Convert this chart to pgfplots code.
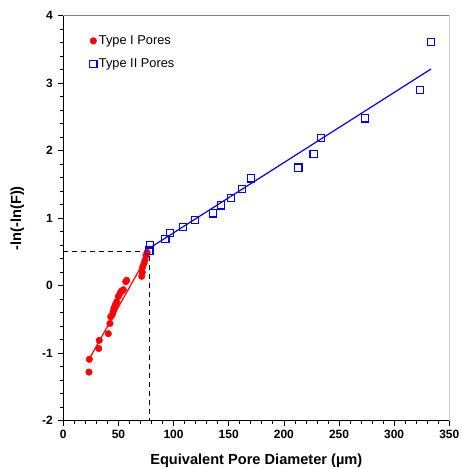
\documentclass[border=0pt]{standalone}
\usepackage{pgfplots}
\pgfplotsset{compat=1.18}
\usepackage{fontspec}
\setmainfont{Liberation Sans}
\begin{document}
\begin{tikzpicture}
\useasboundingbox (-63.3pt,-47.3pt) rectangle (397.7pt,420.7pt);
\begin{axis}[
  at={(0,0)}, anchor=south west,
  scale only axis, width=386pt, height=405pt,
  xmin=0, xmax=350, ymin=-2, ymax=4,
  axis lines=left, axis line style={-, line width=0.8pt},
  xtick={0,50,...,350}, ytick={-2,-1,...,4},
  xticklabels={\textbf{0},\textbf{50},\textbf{100},\textbf{150},\textbf{200},\textbf{250},\textbf{300},\textbf{350}},
  yticklabels={\textbf{-2},\textbf{-1},\textbf{0},\textbf{1},\textbf{2},\textbf{3},\textbf{4}},
  minor x tick num=4, minor y tick num=4,
  tick align=outside, major tick length=5pt, minor tick length=3.5pt,
  tick style={black, line width=0.7pt},
  ticklabel style={font=\fontsize{12}{14}\selectfont},
  yticklabel style={xshift=-2pt},
  xticklabel style={yshift=-1pt},
  xlabel={\textbf{Equivalent Pore Diameter (µm)}},
  ylabel={\textbf{-ln(-ln(F))}},
  label style={font=\fontsize{14.6}{16}\selectfont},
  xlabel style={at={(rel axis cs:0.5,0)}, anchor=base, yshift=-44pt},
  ylabel style={at={(rel axis cs:0,0.5)}, anchor=center, yshift=46pt},
  legend style={at={(rel axis cs:0.068,0.956)}, anchor=north west, draw=none, fill=none,
     font=\fontsize{12.8}{14}\selectfont, row sep=9pt, inner xsep=0pt, inner ysep=0pt, cells={anchor=west}},
  legend image code/.code={\draw[mark repeat=2,mark phase=2,#1] plot coordinates {(0cm,0cm)(0.12cm,0cm)(0.24cm,0cm)};},
]
% dashed guide lines
\addplot[black, line width=1pt, dash pattern=on 5pt off 4pt, forget plot] coordinates {(0,0.5) (78,0.5) (78,-2)};
% fits
\addplot[red, line width=1.2pt, forget plot] coordinates {(23.3,-1.09) (77,0.47)};
\addplot[blue, line width=1.2pt, forget plot] coordinates {(75.6,0.53) (333.4,3.21)};
% Type I
\addplot[only marks, mark=*, mark size=3.3pt, color=red, fill=red] coordinates {
(23.3,-1.28) (23.6,-1.09) (32.1,-0.93) (32.6,-0.81) (40.8,-0.71) (42.3,-0.56)
(43.0,-0.46) (44.4,-0.43) (45.2,-0.38) (46.0,-0.33) (47.2,-0.28) (48.4,-0.24) (49.9,-0.16)
(51.4,-0.11) (52.8,-0.08) (54.4,-0.06) (56.6,0.06) (57.5,0.08) (71.1,0.14) (71.6,0.20)
(72.0,0.28) (73.2,0.33) (74.1,0.38) (75.0,0.45) (76.0,0.49)
};
\addlegendentry{Type I Pores}
% Type II
\addplot[only marks, mark=square, mark size=3.6pt, color=blue, line width=1.2pt] coordinates {
(78.0,0.52) (78.6,0.60) (92.5,0.69) (97.0,0.78) (108.5,0.87) (119.4,0.97) (135.5,1.07)
(143.0,1.19) (152.1,1.30) (161.8,1.43) (170.2,1.59) (213.1,1.75) (227.0,1.95) (233.4,2.19)
(273.8,2.48) (323.7,2.90) (333.4,3.61)
};
\addlegendentry{Type II Pores}
\draw[gray, line width=0.8pt] (rel axis cs:0,1) -- (rel axis cs:1,1) -- (rel axis cs:1,0);
\end{axis}
\end{tikzpicture}
\end{document}
